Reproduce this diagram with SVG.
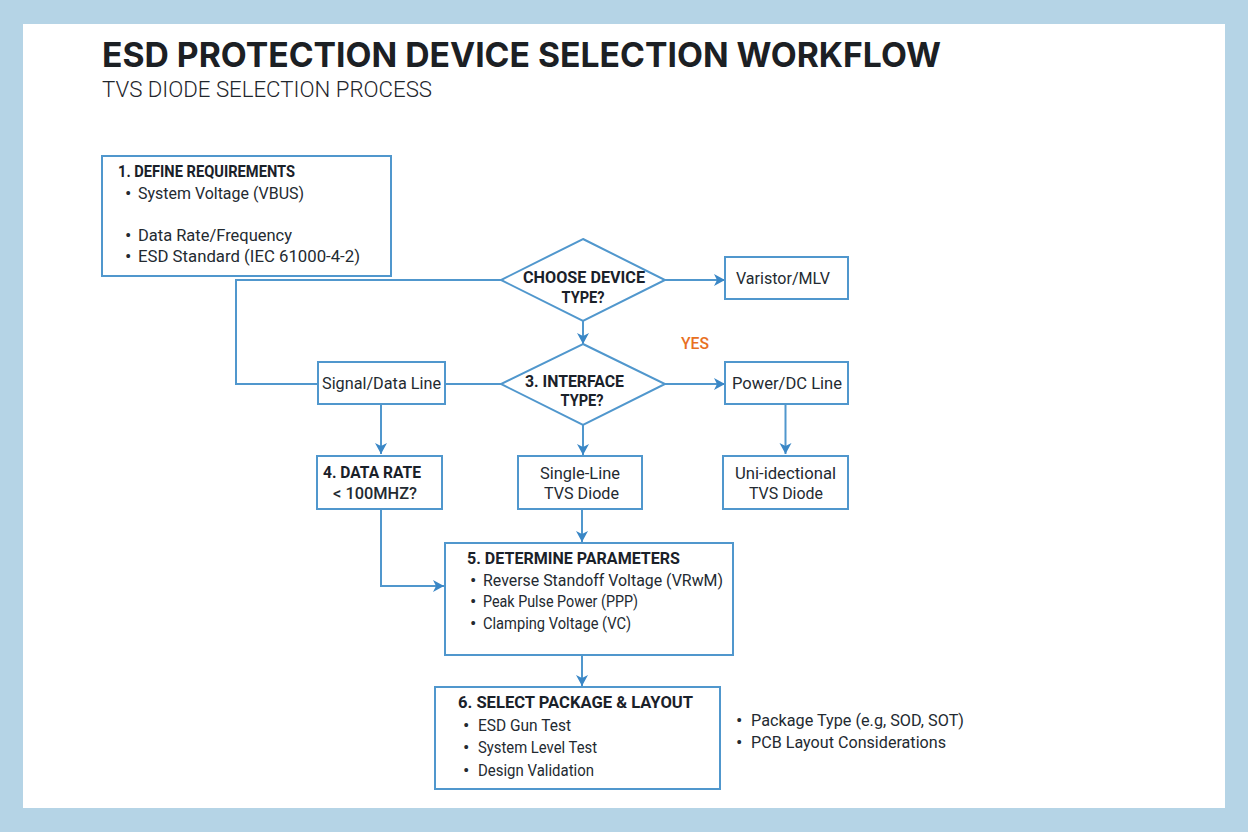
<svg xmlns="http://www.w3.org/2000/svg" width="1248" height="832" viewBox="0 0 1248 832">
<style>
text{font-family:Roboto,"Liberation Sans",sans-serif;fill:#232a31;font-size:16.5px}
.h{font-family:Roboto,"Liberation Sans",sans-serif;font-weight:700;font-size:17px;fill:#1a2129}
.b{fill:#fff;stroke:#5097cd;stroke-width:2}
.c{fill:none;stroke:#5097cd;stroke-width:2}
.m{text-anchor:middle}
.d{font-size:19px}
</style>
<defs><marker id="a" markerWidth="14" markerHeight="14" refX="11" refY="6.5" orient="auto" markerUnits="userSpaceOnUse"><path d="M0 0.5L11 6.5L0 12.5L3 6.5Z" fill="#3a87c6"/></marker></defs>
<rect width="1248" height="832" fill="#b5d4e6"/>
<rect x="23" y="24" width="1202" height="784" fill="#fff"/>
<text x="102" y="67" style="font-family:Inter,Roboto,sans-serif;font-weight:700;font-size:34px;fill:#1c2024" textLength="839" lengthAdjust="spacingAndGlyphs">ESD PROTECTION DEVICE SELECTION WORKFLOW</text>
<text x="102" y="97" style="font-size:22.5px;font-weight:300;fill:#1f262c" textLength="330" lengthAdjust="spacingAndGlyphs">TVS DIODE SELECTION PROCESS</text>
<g id="connectors">
<path class="c" d="M501 280H236V384H318"/>
<path class="c" d="M445 384H501"/>
<path class="c" d="M665 280H725" marker-end="url(#a)"/>
<path class="c" d="M665 384H725" marker-end="url(#a)"/>
<path class="c" d="M583 321V344" marker-end="url(#a)"/>
<path class="c" d="M583 425V455" marker-end="url(#a)"/>
<path class="c" d="M785.500 404V454" marker-end="url(#a)"/>
<path class="c" d="M381 404V454" marker-end="url(#a)"/>
<path class="c" d="M381 509V586H444" marker-end="url(#a)"/>
<path class="c" d="M582 509V542" marker-end="url(#a)"/>
<path class="c" d="M582 655V686" marker-end="url(#a)"/>
</g>
<g id="n1"><rect class="b" x="102" y="156" width="289" height="120"/>
<text class="h" x="118" y="177" textLength="177" lengthAdjust="spacingAndGlyphs">1. DEFINE REQUIREMENTS</text>
<text class="d" x="125" y="200">•</text><text x="138" y="199" textLength="166" lengthAdjust="spacingAndGlyphs">System Voltage (VBUS)</text>
<text class="d" x="125" y="242">•</text><text x="138" y="241" textLength="154" lengthAdjust="spacingAndGlyphs">Data Rate/Frequency</text>
<text class="d" x="125" y="263">•</text><text x="138" y="262" textLength="222" lengthAdjust="spacingAndGlyphs">ESD Standard (IEC 61000-4-2)</text></g>
<g id="n2"><path class="b" d="M583 239L665 280L583 321L501 280Z"/>
<text class="h m" x="584" y="283" textLength="122" lengthAdjust="spacingAndGlyphs">CHOOSE DEVICE</text>
<text class="h m" x="583" y="303" textLength="43" lengthAdjust="spacingAndGlyphs">TYPE?</text></g>
<g id="n3"><rect class="b" x="725" y="257" width="123" height="42"/><text x="736" y="284" textLength="94" lengthAdjust="spacingAndGlyphs">Varistor/MLV</text></g>
<g id="n4"><path class="b" d="M583 344L665 384L583 425L501 384Z"/>
<text class="h m" x="574.500" y="387" textLength="99" lengthAdjust="spacingAndGlyphs">3. INTERFACE</text>
<text class="h m" x="582" y="406" textLength="43" lengthAdjust="spacingAndGlyphs">TYPE?</text></g>
<text x="681" y="349" style="fill:#e8701f;font-size:16.500px;font-weight:500" textLength="28" lengthAdjust="spacingAndGlyphs">YES</text>
<g id="n5"><rect class="b" x="318" y="362" width="127" height="42"/><text x="322" y="389" textLength="119" lengthAdjust="spacingAndGlyphs">Signal/Data Line</text></g>
<g id="n6"><rect class="b" x="725" y="362" width="123" height="42"/><text x="732" y="389" textLength="110" lengthAdjust="spacingAndGlyphs">Power/DC Line</text></g>
<g id="n7"><rect class="b" x="317" y="456" width="125" height="53"/>
<text class="h" x="323" y="478" textLength="98" lengthAdjust="spacingAndGlyphs">4. DATA RATE</text>
<text x="333" y="499" style="font-weight:500" textLength="84" lengthAdjust="spacingAndGlyphs">&lt; 100MHZ?</text></g>
<g id="n8"><rect class="b" x="518" y="456" width="124" height="53"/>
<text x="540" y="479" textLength="80" lengthAdjust="spacingAndGlyphs">Single-Line</text><text x="544" y="499" textLength="75" lengthAdjust="spacingAndGlyphs">TVS Diode</text></g>
<g id="n9"><rect class="b" x="723" y="456" width="125" height="53"/>
<text x="735" y="479" textLength="101" lengthAdjust="spacingAndGlyphs">Uni-idectional</text><text x="749" y="499" textLength="74" lengthAdjust="spacingAndGlyphs">TVS Diode</text></g>
<g id="n10"><rect class="b" x="445" y="543" width="288" height="112"/>
<text class="h" x="467" y="564" textLength="213" lengthAdjust="spacingAndGlyphs">5. DETERMINE PARAMETERS</text>
<text class="d" x="470" y="587">•</text><text x="483" y="586" textLength="240" lengthAdjust="spacingAndGlyphs">Reverse Standoff Voltage (VRwM)</text>
<text class="d" x="470" y="608">•</text><text x="483" y="607" textLength="155" lengthAdjust="spacingAndGlyphs">Peak Pulse Power (PPP)</text>
<text class="d" x="470" y="630">•</text><text x="483" y="629" textLength="148" lengthAdjust="spacingAndGlyphs">Clamping Voltage (VC)</text></g>
<g id="n11"><rect class="b" x="435" y="687" width="285" height="102"/>
<text class="h" x="458" y="708" textLength="235" lengthAdjust="spacingAndGlyphs">6. SELECT PACKAGE &amp; LAYOUT</text>
<text class="d" x="463" y="732">•</text><text x="478" y="731" textLength="93" lengthAdjust="spacingAndGlyphs">ESD Gun Test</text>
<text class="d" x="463" y="754">•</text><text x="478" y="753" textLength="119" lengthAdjust="spacingAndGlyphs">System Level Test</text>
<text class="d" x="463" y="777">•</text><text x="478" y="776" textLength="116" lengthAdjust="spacingAndGlyphs">Design Validation</text></g>
<g id="n12">
<text class="d" x="736" y="727">•</text><text x="751" y="726" textLength="213" lengthAdjust="spacingAndGlyphs">Package Type (e.g, SOD, SOT)</text>
<text class="d" x="736" y="749">•</text><text x="751" y="748" textLength="195" lengthAdjust="spacingAndGlyphs">PCB Layout Considerations</text></g>
</svg>
